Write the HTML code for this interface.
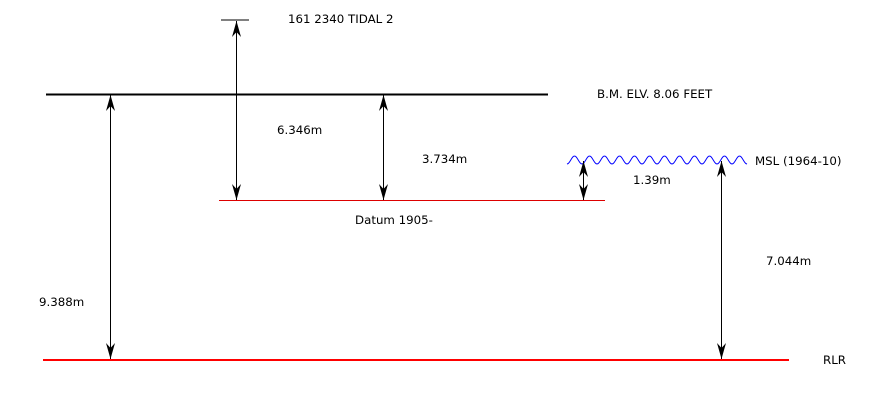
<!DOCTYPE html>
<html><head><meta charset="utf-8"><style>
body{margin:0;background:#fff;}
svg text{font-family:"DejaVu Sans","Liberation Sans",sans-serif;font-size:11.8px;fill:#000;}
</style></head><body>
<svg width="875" height="400" viewBox="0 0 875 400">
<defs>
<marker id="ah" viewBox="0 0 16 10" refX="16" refY="5" markerWidth="16" markerHeight="10" markerUnits="userSpaceOnUse" orient="auto-start-reverse">
<path d="M0,0.5 L16,5 L0,9.5 L5,5 Z" fill="#000"/>
</marker>
</defs>
<line x1="221" y1="20" x2="249" y2="20" stroke="#000" stroke-width="1"/>
<line x1="46" y1="94.5" x2="548" y2="94.5" stroke="#000" stroke-width="2"/>
<line x1="219" y1="200.5" x2="605" y2="200.5" stroke="#d00" stroke-width="1"/>
<line x1="43" y1="360" x2="789" y2="360" stroke="#f00" stroke-width="2"/>
<path id="wave" fill="none" stroke="#00f" stroke-width="1"/>
<g stroke="#000" stroke-width="1" marker-start="url(#ah)" marker-end="url(#ah)">
<line x1="110.5" y1="95" x2="110.5" y2="359"/>
<line x1="236.5" y1="21" x2="236.5" y2="200"/>
<line x1="383.5" y1="95" x2="383.5" y2="200"/>
<line x1="583.5" y1="161" x2="583.5" y2="200"/>
<line x1="721.5" y1="161" x2="721.5" y2="359"/>
</g>
<text x="288" y="23">161 2340 TIDAL 2</text>
<text x="597" y="98">B.M. ELV. 8.06 FEET</text>
<text x="277" y="134">6.346m</text>
<text x="422" y="163">3.734m</text>
<text x="755" y="165">MSL (1964-10)</text>
<text x="633" y="184">1.39m</text>
<text x="355" y="224">Datum 1905-</text>
<text x="766" y="265">7.044m</text>
<text x="39" y="306">9.388m</text>
<text x="823" y="364">RLR</text>
</svg>
<script>
var d="";for(var x=567;x<=747;x+=1){var y=160+4*Math.sin((x-567)/15*2*Math.PI+Math.PI/2);d+=(x==567?"M":"L")+x+","+y.toFixed(2);}
document.getElementById('wave').setAttribute('d',d);
</script>
</body></html>
